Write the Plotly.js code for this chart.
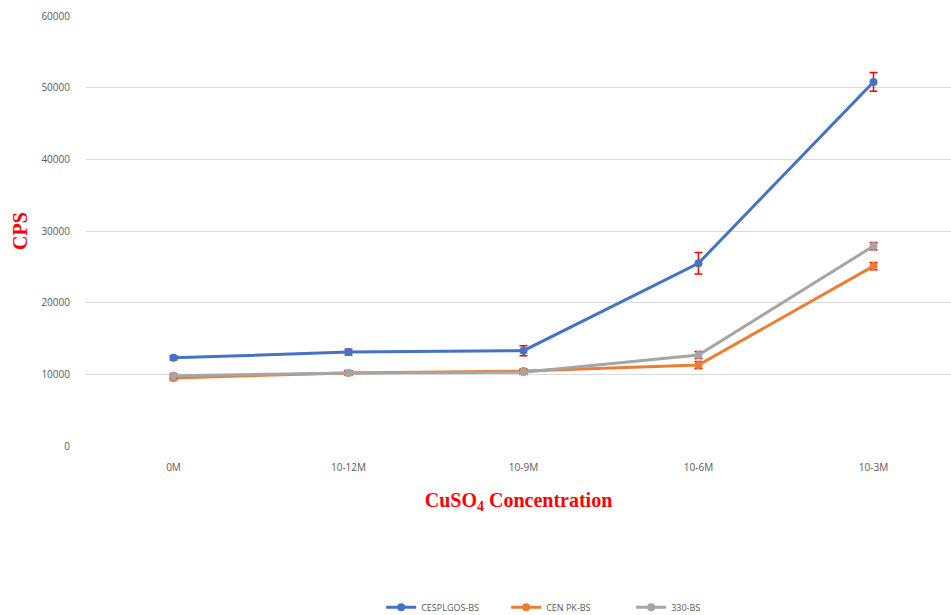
<!DOCTYPE html>
<html><head><meta charset="utf-8">
<script src="https://cdn.plot.ly/plotly-3.0.1.min.js"></script>
<style>body{margin:0;background:#fff}#c{width:951px;height:615px}</style>
</head><body><div id="c"></div>
<script>
const categories = ["0M", "10-12M", "10-9M", "10-6M", "10-3M"];
const seriesNames = ["CESPLGOS-BS", "CEN PK-BS", "330-BS"];
const cesplgos = [12300, 13100, 13300, 25500, 50800];
const cesplgosErr = [300, 400, 700, 1500, 1300];
const cenpk = [9500, 10200, 10450, 11300, 25100];
const cenpkErr = [300, 300, 300, 500, 500];
const s330 = [9800, 10200, 10300, 12700, 27900];
const s330Err = [300, 300, 300, 500, 500];
const colors = ["#4472C4", "#ED7D31", "#A5A5A5"];

const data = [
  [cesplgos, cesplgosErr], [cenpk, cenpkErr], [s330, s330Err]
].map((d, i) => ({
  type: "scatter", mode: "lines+markers", name: seriesNames[i],
  x: categories, y: d[0],
  line: {color: colors[i], width: 3},
  marker: {color: colors[i], size: 8, symbol: "circle"},
  error_y: {type: "data", array: d[1], visible: true, color: "#FF0000", thickness: 1.5, width: 4}
}));
const tf = {family: "Open Sans, sans-serif", size: 10, color: "#595959"};
const layout = {
  width: 951, height: 615,
  margin: {l: 86, r: 0, t: 16, b: 169, autoexpand: false},
  paper_bgcolor: "#fff", plot_bgcolor: "#fff",
  showlegend: true,
  legend: {orientation: "h", x: 0.558, xanchor: "center", y: -0.375, yanchor: "middle",
    font: {family: "Open Sans, sans-serif", size: 9, color: "#595959"}, traceorder: "normal",
    entrywidth: 80, entrywidthmode: "pixels"},
  xaxis: {type: "category", range: [-0.5, 4.443], showgrid: false, zeroline: false, automargin: false,
    showline: false, ticks: "outside", ticklen: 12, tickcolor: "rgba(0,0,0,0)", tickfont: tf,
    title: {text: "<b>CuSO<sub>4</sub> Concentration</b>", font: {family: "Liberation Serif, serif", size: 20, color: "#FF0000"}, standoff: 19}},
  yaxis: {range: [0, 60000], dtick: 10000, showgrid: true, gridcolor: "#D9D9D9", gridwidth: 1, automargin: false,
    zeroline: false, showline: false, ticks: "outside", ticklen: 13, tickcolor: "rgba(0,0,0,0)", tickformat: "d",
    tickfont: tf,
    title: {text: "<b>CPS</b>", font: {family: "Liberation Serif, serif", size: 20, color: "#FF0000"}, standoff: 8}},
  font: {family: "Open Sans, sans-serif"}
};
Plotly.newPlot("c", data, layout, {displayModeBar: false});
</script></body></html>
